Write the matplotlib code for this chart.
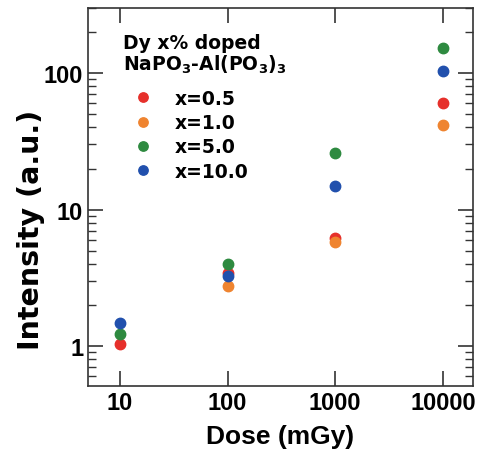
import numpy as np
import matplotlib
matplotlib.use("Agg")
import matplotlib.pyplot as plt
from matplotlib.ticker import FixedLocator, FixedFormatter, LogLocator, NullLocator

plt.rcParams['font.family'] = ['Liberation Sans', 'DejaVu Sans']
plt.rcParams['font.weight'] = 'bold'
plt.rcParams['mathtext.fontset'] = 'custom'
plt.rcParams['mathtext.rm'] = 'DejaVu Sans:bold'
plt.rcParams['mathtext.bf'] = 'DejaVu Sans:bold'

dose = [10, 100, 1000, 10000]
labels = ["x=0.5", "x=1.0", "x=5.0", "x=10.0"]
# orange point at 10 mGy is hidden in the original
x05 = [1.03, 3.45, 6.2, 60]
x10 = [np.nan, 2.75, 5.8, 41.5]
x50 = [1.22, 4.0, 26, 152]
x100 = [1.47, 3.27, 14.8, 104]
colors = ['#e6302b', '#ef8430', '#2e8a40', '#2150ad']

fig = plt.figure(figsize=(4.81, 4.56), dpi=100)
ax = fig.add_axes([0.183, 0.1513, 0.800, 0.829])

for vals, lab, c in zip([x05, x10, x50, x100], labels, colors):
    ax.plot(dose, vals, 'o', color=c, markersize=7.5, label=lab, linestyle='none')

ax.set_xscale('log')
ax.set_yscale('log')
ax.set_xlim(5.05, 19000)
ax.set_ylim(0.51, 300)

ax.xaxis.set_major_locator(FixedLocator([10, 100, 1000, 10000]))
ax.xaxis.set_major_formatter(FixedFormatter(["10", "100", "1000", "10000"]))
ax.xaxis.set_minor_locator(NullLocator())
ax.yaxis.set_major_locator(FixedLocator([1, 10, 100]))
ax.yaxis.set_major_formatter(FixedFormatter(["1", "10", "100"]))
ax.yaxis.set_minor_locator(LogLocator(base=10, subs=np.arange(2, 10)))

ax.tick_params(which='both', direction='in', top=True, right=True, colors='#333333',
               labelcolor='black', labelsize=17)
ax.tick_params(which='major', length=11, width=1.2, pad=3.5)
ax.tick_params(which='minor', length=6, width=1.0)
for s in ax.spines.values():
    s.set_linewidth(1.2)
    s.set_color('#333333')

ax.set_xlabel("Dose (mGy)", fontsize=19, fontweight='bold', labelpad=7)
ax.set_ylabel("Intensity (a.u.)", fontsize=20.5, fontweight='bold', family='DejaVu Sans')
ax.yaxis.set_label_coords(-0.113, 0.415)

# legend heading
ax.text(0.091, 0.895, "Dy x% doped", transform=ax.transAxes, fontsize=13.5,
        fontweight='bold', family='DejaVu Sans', va='baseline', ha='left')
ax.text(0.091, 0.836, r"NaPO$_3$-Al(PO$_3$)$_3$", transform=ax.transAxes, fontsize=13.5,
        fontweight='bold', family='DejaVu Sans', va='baseline', ha='left')

leg = ax.legend(frameon=False, loc='upper left', bbox_to_anchor=(0.118, 0.786),
                prop={'family': 'DejaVu Sans', 'weight': 'bold', 'size': 13.5},
                handlelength=1.0, handletextpad=1.21, labelspacing=0.28,
                borderpad=0, borderaxespad=0, markerscale=0.9)

fig.savefig("out.png", dpi=100)
